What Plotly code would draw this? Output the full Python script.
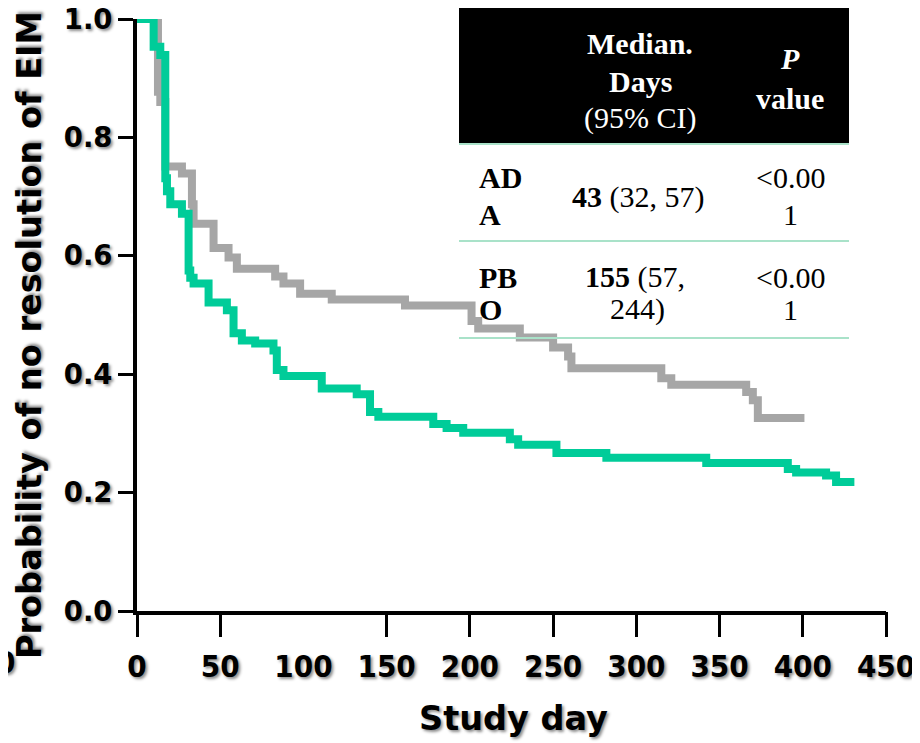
import plotly.graph_objects as go

# ---------------- data ----------------
ada_days = [0, 12.6, 14, 17, 27, 33, 34, 46, 55, 60, 83, 88, 98, 117, 161, 201, 205, 230,
            250, 259, 261, 315, 321, 366, 370, 373, 401]
ada_surv = [1.0, 0.877, 0.86, 0.751, 0.739, 0.687, 0.654, 0.613, 0.597, 0.578, 0.565, 0.553,
            0.536, 0.526, 0.516, 0.49, 0.477, 0.462, 0.445, 0.43, 0.41, 0.393, 0.382, 0.37,
            0.356, 0.326, 0.326]

pbo_days = [0, 10, 14, 17, 18, 20, 27, 31, 32, 34, 43, 54, 58, 63, 71, 82, 84, 88, 111, 132,
            140, 145, 178, 186, 196, 224, 229, 252, 282, 342, 391, 396, 414, 420, 431]
pbo_surv = [1.0, 0.953, 0.939, 0.731, 0.709, 0.687, 0.671, 0.575, 0.563, 0.553, 0.521, 0.508,
            0.469, 0.457, 0.452, 0.44, 0.407, 0.397, 0.376, 0.366, 0.336, 0.328, 0.316, 0.309,
            0.301, 0.29, 0.281, 0.267, 0.259, 0.25, 0.24, 0.234, 0.229, 0.218, 0.218]

x_ticks = [0, 50, 100, 150, 200, 250, 300, 350, 400, 450]
x_tick_marks = [0, 50, 150, 200, 250, 300, 350, 400, 450]
y_ticks = [0.0, 0.2, 0.4, 0.6, 0.8, 1.0]

header_median = ["Median.", "Days", "(95% CI)"]
header_p = ["P", "value"]
row_names = [["AD", "A"], ["PB", "O"]]
row_median_bold = ["43", "155"]
row_ci = [["(32, 57)"], ["(57,", "244)"]]
row_p = [["<0.00", "1"], ["<0.00", "1"]]

GREEN = "#00CC99"
GRAY = "#A6A6A6"
MINT = "#A9E2C9"

OFF = 8  # page body margin
W, H = 912, 735
L, R, T, B = 129, 34, 11, 132
PW, PH = W - L - R, H - T - B


def px(xp):
    return (xp - OFF - L) / PW


def py(yp):
    return (H - B - (yp - OFF)) / PH


shadow = "2px 2px 3px rgba(0,0,0,0.45)"

fig = go.Figure()
fig.add_trace(go.Scatter(x=ada_days, y=ada_surv, mode="lines", line=dict(color=GRAY, width=8, shape="hv"),
                         name="ADA", xaxis="x", yaxis="y", showlegend=False))
fig.add_trace(go.Scatter(x=pbo_days, y=pbo_surv, mode="lines", line=dict(color=GREEN, width=8, shape="hv"),
                         name="PBO", xaxis="x2", yaxis="y", showlegend=False))

tickfont_x = dict(family="DejaVu Sans Condensed, DejaVu Sans", size=31, color="black", weight="bold", shadow=shadow)
tickfont_y = dict(family="DejaVu Sans", size=27.5, color="black", weight="bold", shadow=shadow)

fig.update_layout(
    width=W, height=H,
    margin=dict(l=L, r=R, t=T, b=B, autoexpand=False),
    paper_bgcolor="white", plot_bgcolor="white",
    xaxis=dict(range=[0, 450], tickvals=x_ticks, ticktext=[str(v) for v in x_ticks],
               ticks="outside", ticklen=25, tickwidth=3, tickcolor="rgba(0,0,0,0)",
               showline=True, linewidth=4, linecolor="black", showgrid=False, zeroline=False,
               tickfont=tickfont_x, anchor="y", automargin=False, ticklabeloverflow="allow"),
    xaxis2=dict(range=[0, 450], tickvals=x_tick_marks, ticks="outside", ticklen=25, tickwidth=3,
                tickcolor="black", showticklabels=False, showline=False, showgrid=False,
                zeroline=False, overlaying="x", anchor="y", side="bottom", automargin=False),
    yaxis=dict(range=[0, 1.0], tickvals=y_ticks, tickformat=".1f", ticks="outside", ticklen=15,
               tickwidth=3, tickcolor="black", showline=True, linewidth=4, linecolor="black",
               showgrid=False, zeroline=False, tickfont=tickfont_y, automargin=False,
               ticklabeloverflow="allow"),
)

annotations = []
shapes = []

# axis titles
annotations.append(dict(text="<b>Probability of no resolution of EIM</b>", textangle=-90,
                        xref="paper", yref="paper", x=px(29), y=py(335), xanchor="center", yanchor="middle",
                        showarrow=False, font=dict(family="DejaVu Sans", size=33.5, color="black", shadow=shadow)))
annotations.append(dict(text="<b>Study day</b>", xref="paper", yref="paper", x=px(513), y=py(718),
                        xanchor="center", yanchor="middle", showarrow=False,
                        font=dict(family="DejaVu Sans", size=33.5, color="black", shadow=shadow)))
# stray label at the left edge of the original (only its right part shows there)
annotations.append(dict(text="<b>0</b>", xref="paper", yref="paper", x=px(17), y=py(662),
                        xanchor="right", yanchor="middle", showarrow=False,
                        font=dict(family="DejaVu Sans Condensed, DejaVu Sans", size=31, color="black", shadow=shadow)))

# table
shapes.append(dict(type="rect", xref="paper", yref="paper", x0=px(459), x1=px(849), y0=py(143), y1=py(6),
                   fillcolor="black", line=dict(width=0), layer="above"))
for yl in [144, 241, 338]:
    shapes.append(dict(type="line", xref="paper", yref="paper", x0=px(459), x1=px(849), y0=py(yl), y1=py(yl),
                       line=dict(color=MINT, width=2), layer="above"))

serif = "Liberation Serif, Times New Roman, serif"


def tab(text, xpix, ypix, color="black", anchor="center"):
    annotations.append(dict(text=text, xref="paper", yref="paper", x=px(xpix), y=py(ypix),
                            xanchor=anchor, yanchor="middle", showarrow=False,
                            font=dict(family=serif, size=30, color=color)))


tab("<b>%s</b>" % header_median[0], 640, 43, "white")
tab("<b>%s</b>" % header_median[1], 640, 81, "white")
tab(header_median[2], 640, 118, "white")
tab("<b><i>%s</i></b>" % header_p[0], 790, 58, "white")
tab("<b>%s</b>" % header_p[1], 790, 98, "white")

# row 1
tab("<b>%s</b>" % row_names[0][0], 477, 178, anchor="left")
tab("<b>%s</b>" % row_names[0][1], 477, 215, anchor="left")
tab("<b>%s</b> %s" % (row_median_bold[0], row_ci[0][0]), 638, 197)
tab(row_p[0][0].replace("<", "&lt;"), 790, 178)
tab(row_p[0][1], 790, 215)
# row 2
tab("<b>%s</b>" % row_names[1][0], 477, 277, anchor="left")
tab("<b>%s</b>" % row_names[1][1], 477, 309, anchor="left")
tab("<b>%s</b> %s" % (row_median_bold[1], row_ci[1][0]), 635, 277)
tab(row_ci[1][1], 637, 309)
tab(row_p[1][0].replace("<", "&lt;"), 790, 277)
tab(row_p[1][1], 790, 309)

fig.update_layout(annotations=annotations, shapes=shapes)

fig.write_html("out.html")
